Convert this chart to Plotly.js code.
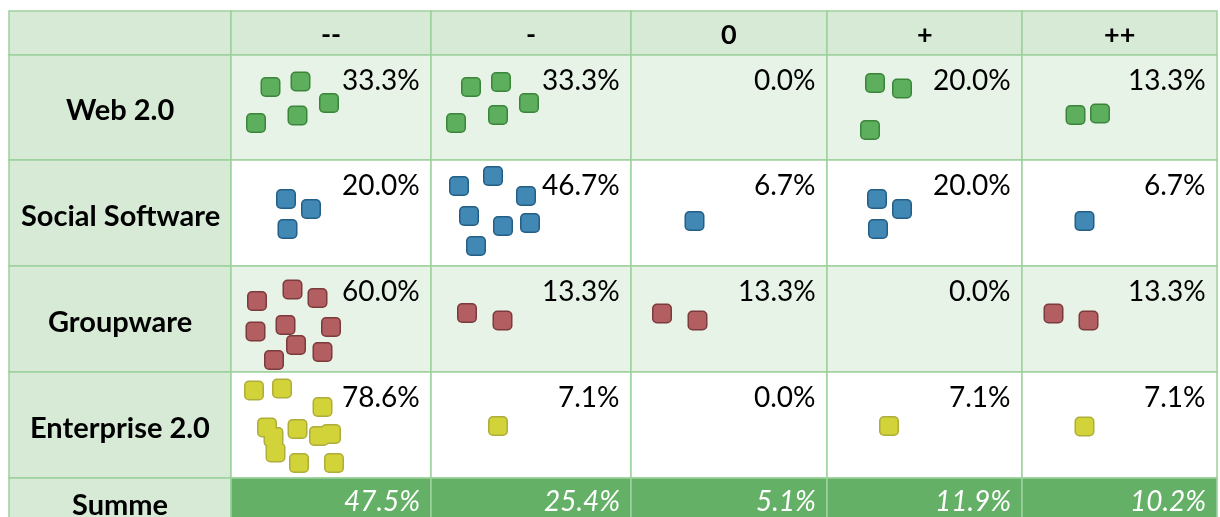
<!DOCTYPE html>
<html>
<head>
<meta charset="utf-8">
<script src="https://cdn.plot.ly/plotly-3.0.1.min.js"></script>
<style>
  html, body { margin: 0; padding: 0; background: #ffffff; }
  #chart { width: 1220px; height: 517px; }
  .js-plotly-plot .scatterlayer path.point { stroke-linejoin: round; }
</style>
</head>
<body>
<div id="chart"></div>
<script>
// ---------------- data ----------------
const rowLabels = ['Web 2.0', 'Social Software', 'Groupware', 'Enterprise 2.0'];
const colLabels = ['--', '-', '0', '+', '++'];
const sumLabel = 'Summe';

const pctWeb        = [33.3, 33.3, 0.0, 20.0, 13.3];
const pctSocial     = [20.0, 46.7, 6.7, 20.0, 6.7];
const pctGroupware  = [60.0, 13.3, 13.3, 0.0, 13.3];
const pctEnterprise = [78.6, 7.1, 0.0, 7.1, 7.1];
const pctSumme      = [47.5, 25.4, 5.1, 11.9, 10.2];

// dot jitter inside each cell (px from the cell's top-left corner), one list per column
const webDotsDX = [[39.5, 69.5, 98, 66.5, 25], [40, 70, 98, 67, 25], [], [48, 75, 43], [53.5, 78]];
const webDotsDY = [[32, 26.5, 48, 60.5, 68], [32, 27, 48, 60, 68], [], [28, 33.5, 75], [60, 58.5]];
const socialDotsDX = [[55, 80, 56.5], [28, 62, 95, 38, 72, 99, 45], [63.5], [50, 75, 51], [62.5]];
const socialDotsDY = [[39, 49, 69], [26, 16, 36, 56, 66, 63, 86], [61], [39, 49, 69], [61]];
const groupwareDotsDX = [[26, 61.5, 86.5, 24.5, 54.5, 100, 65, 91.5, 43], [36, 71.5], [31, 66.5], [], [31.5, 66.5]];
const groupwareDotsDY = [[35, 23.5, 32, 65.5, 59, 61, 79, 86, 94], [47, 54.5], [47.5, 54.5], [], [47.5, 54.5]];
const enterpriseDotsDX = [[23, 51, 91.5, 36, 42.5, 66.5, 88, 100, 44.5, 68, 103], [67], [], [62], [62.5]];
const enterpriseDotsDY = [[18.5, 16.5, 35, 55.5, 65, 57, 64, 62, 80.5, 91, 91], [54], [], [54], [54.5]];

const pctRows = [pctWeb, pctSocial, pctGroupware, pctEnterprise];
const dotsDX = [webDotsDX, socialDotsDX, groupwareDotsDX, enterpriseDotsDX];
const dotsDY = [webDotsDY, socialDotsDY, groupwareDotsDY, enterpriseDotsDY];

// ---------------- layout / style ----------------
const colEdges = [9, 231, 431, 631, 827, 1022, 1217];
const rowEdges = [11, 55, 160, 266, 372, 478, 540];
const W = 1220, H = 517;
const FONT = 'Lato, "Open Sans", sans-serif';
const gridColor = '#9dd19d';
const headBg = '#d6ead5';
const lightBg = '#e8f3e7';
const sumBg = '#64b066';
const rowBgs = [lightBg, '#ffffff', lightBg, '#ffffff'];
const dotFill = ['#5dae5d', '#4288b5', '#b35f61', '#d8d83a'];
const dotEdge = ['#3b853b', '#225e86', '#7b3a3b', '#a3a21f'];
const dotOpacity = [1, 1, 1, 0.88];

const shapes = [];
function rect(x0, x1, y0, y1, fill) {
  shapes.push({type: 'rect', xref: 'x', yref: 'y', x0, x1, y0, y1, layer: 'below',
               fillcolor: fill, line: {color: gridColor, width: 1.5}});
}
// header row
for (let c = 0; c < 6; c++) rect(colEdges[c], colEdges[c + 1], rowEdges[0], rowEdges[1], headBg);
// body rows
for (let r = 0; r < rowLabels.length; r++) {
  rect(colEdges[0], colEdges[1], rowEdges[r + 1], rowEdges[r + 2], headBg);
  for (let c = 0; c < colLabels.length; c++)
    rect(colEdges[c + 1], colEdges[c + 2], rowEdges[r + 1], rowEdges[r + 2], rowBgs[r]);
}
// sum row
rect(colEdges[0], colEdges[1], rowEdges[5], rowEdges[6], headBg);
for (let c = 0; c < colLabels.length; c++)
  rect(colEdges[c + 1], colEdges[c + 2], rowEdges[5], rowEdges[6], sumBg);

const annotations = [];
function txt(x, y, text, opts) {
  annotations.push(Object.assign({xref: 'x', yref: 'y', x, y, text, showarrow: false,
    yanchor: 'middle', font: {family: FONT, size: 28, color: '#000000'}}, opts));
}
const boldFont = {family: FONT, size: 29, color: '#000000', weight: 700};
// header labels
colLabels.forEach((lab, c) => {
  txt((colEdges[c + 1] + colEdges[c + 2]) / 2, 33, lab,
      {xanchor: 'center', font: {family: FONT, size: 27, color: '#000000', weight: 700}});
});
// row labels and percentages
rowLabels.forEach((lab, r) => {
  txt((colEdges[0] + colEdges[1]) / 2, (rowEdges[r + 1] + rowEdges[r + 2]) / 2 + 1, lab,
      {xanchor: 'center', font: boldFont});
  pctRows[r].forEach((v, c) => {
    txt(colEdges[c + 2] - 9, rowEdges[r + 1] + 24, v.toFixed(1) + '%', {xanchor: 'right'});
  });
});
txt((colEdges[0] + colEdges[1]) / 2, 503, sumLabel, {xanchor: 'center', font: boldFont});
pctSumme.forEach((v, c) => {
  txt(colEdges[c + 2] - 9, 500, v.toFixed(1) + '%',
      {xanchor: 'right', font: {family: FONT, size: 28, color: '#ffffff', style: 'italic'}});
});

// dots: two stacked layers (edge + fill) per series give rounded squares
const traces = [];
rowLabels.forEach((lab, r) => {
  const xs = [], ys = [];
  dotsDX[r].forEach((list, c) => {
    list.forEach((dx, i) => {
      xs.push(colEdges[c + 1] + dx);
      ys.push(rowEdges[r + 1] + dotsDY[r][c][i]);
    });
  });
  traces.push({type: 'scatter', mode: 'markers', x: xs, y: ys, name: lab, hoverinfo: 'skip',
    opacity: dotOpacity[r], showlegend: false,
    marker: {symbol: 'square', size: 10, color: dotEdge[r], line: {color: dotEdge[r], width: 10}}});
  traces.push({type: 'scatter', mode: 'markers', x: xs, y: ys, name: lab, hoverinfo: 'skip',
    opacity: dotOpacity[r], showlegend: false,
    marker: {symbol: 'square', size: 10, color: dotFill[r], line: {color: dotFill[r], width: 7}}});
});

const layout = {
  width: W, height: H,
  margin: {l: 0, r: 0, t: 0, b: 0, pad: 0},
  paper_bgcolor: '#ffffff', plot_bgcolor: '#ffffff',
  xaxis: {range: [0, W], visible: false, fixedrange: true},
  yaxis: {range: [H, 0], visible: false, fixedrange: true},
  shapes, annotations, showlegend: false
};
Plotly.newPlot('chart', traces, layout, {displayModeBar: false, staticPlot: true});
</script>
</body>
</html>
